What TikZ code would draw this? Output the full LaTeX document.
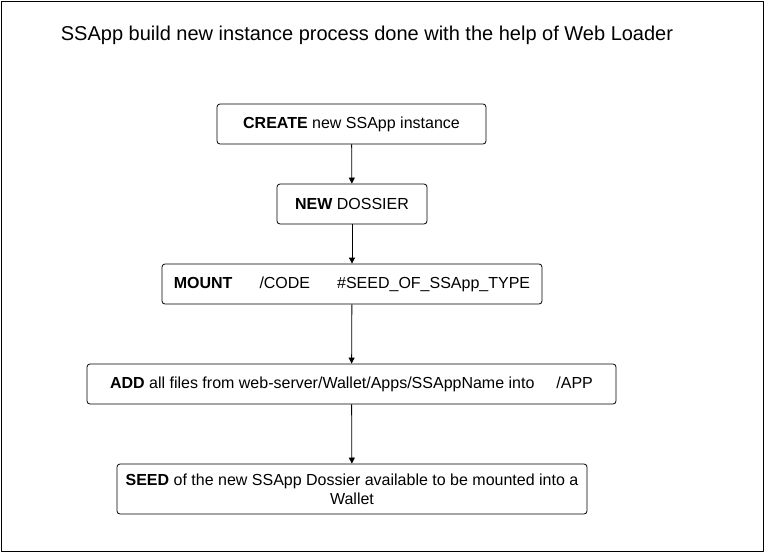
\documentclass[tikz,border=0pt]{standalone}
\usepackage{fontspec}
\setmainfont{Liberation Sans}
\usetikzlibrary{arrows.meta}
\begin{document}
\begin{tikzpicture}[x=1pt, y=-1pt, font=\fontsize{16}{19}\selectfont, line join=round, >={Triangle[length=6pt,width=6pt]},
  stepbox/.style={draw, rounded corners=3pt, inner sep=0pt, align=flush center, line width=0.8pt}]
\useasboundingbox (0,0) rectangle (764,552);
\draw[line width=0.8pt] (1,1) rectangle (763,551);
\node (title) at (367,35) {\fontsize{20}{24}\selectfont SSApp build new instance process done with the help of Web Loader};
\node[stepbox, minimum width=269pt, minimum height=40pt] (create) at (351.5,124) {\textbf{CREATE} new SSApp instance};
\node[stepbox, minimum width=150pt, minimum height=40pt] (dossier) at (352,204) {\textbf{NEW} DOSSIER};
\node[stepbox, minimum width=380pt, minimum height=40pt] (mount) at (352,284) {\textbf{MOUNT}\hspace{27pt}/CODE\hspace{27pt}\#SEED\_OF\_SSApp\_TYPE};
\node[stepbox, minimum width=529pt, minimum height=40pt] (add) at (351.5,384) {\textbf{ADD} all files from web-server/Wallet/Apps/SSAppName into\hspace{22pt}/APP};
\node[stepbox, minimum width=470pt, minimum height=50pt, text width=462pt] (seed) at (352,489) {\textbf{SEED} of the new SSApp Dossier available to be mounted into a Wallet};

\foreach \from/\to in {create/dossier,dossier/mount,mount/add,add/seed}
\draw[->, line width=0.8pt]
(\from)--(\to)
;
\end{tikzpicture}
\end{document}
